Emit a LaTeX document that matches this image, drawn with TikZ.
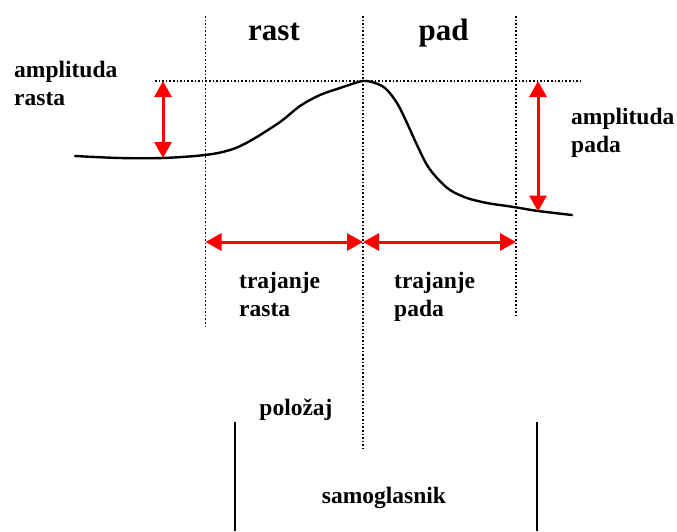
\documentclass[tikz,border=0pt]{standalone}
\usepackage{fontspec}
\setmainfont{Liberation Serif}
\usetikzlibrary{arrows.meta, positioning}

\begin{document}
\begin{tikzpicture}[
  x=1pt, y=-1pt,
  font=\fontsize{23.5}{28}\selectfont\bfseries,
  txt/.style={inner sep=0pt, align=left, anchor=base west},
  head/.style={inner sep=0pt, anchor=base, font=\fontsize{31}{31}\selectfont\bfseries},
  guide/.style={line width=1.5pt, dash pattern=on 1.5pt off 2.1pt},
  span/.style={red, line width=3pt,
    {Triangle[width=17pt,length=16pt]}-{Triangle[width=17pt,length=16pt]}},
  contour/.style={line width=2.4pt, line cap=round},
  wall/.style={line width=1.8pt},
]
\useasboundingbox (0,0) rectangle (677,531);

% --- dotted guides ---
\coordinate (g1top) at (205.5,16);
\coordinate (g1bot) at (205.5,326);
\coordinate (g2top) at (363,16);
\coordinate (g2bot) at (363,449);
\coordinate (g3top) at (516,16);
\coordinate (g3bot) at (516,318);
\coordinate (peakL) at (155,81);
\coordinate (peakR) at (582,81);
\draw[guide] (g1top) -- (g1bot);
\draw[guide] (g2top) -- (g2bot);
\draw[guide] (g3top) -- (g3bot);
\draw[guide] (peakL) -- (peakR);

% --- pitch contour ---
\draw[contour] plot[smooth, tension=0.55] coordinates {
  (75,156) (120,158) (163,158) (205,155) (230,150) (250,141) (280,122)
  (300,106) (320,95) (340,88) (355,83) (363,81) (372,82) (385,88)
  (397,103) (407,123) (417,145) (427,165) (437,178) (450,190) (467,198)
  (487,203) (507,206) (520,208) (538,211) (572,215)};

% --- amplitudes ---
\coordinate (riseTop) at (163,81);
\coordinate (riseBot) at (163,158);
\coordinate (fallTop) at (538,81);
\coordinate (fallBot) at (538,211.5);
\draw[span] (riseTop) -- (riseBot);
\draw[span] (fallTop) -- (fallBot);

% --- durations ---
\coordinate (durA) at (205.5,242);
\coordinate (durB) at (363,242);
\coordinate (durC) at (516,242);
\draw[span] (durA) -- (durB);
\draw[span] (durB) -- (durC);

% --- vowel ---
\coordinate (v1top) at (235,422);
\coordinate (v1bot) at (235,531);
\coordinate (v2top) at (537,422);
\coordinate (v2bot) at (537,531);
\draw[wall] (v1top) -- (v1bot);
\draw[wall] (v2top) -- (v2bot);

% --- labels (base = last line) ---
\node[head] (rast) at (274,40) {rast};
\node[head] (pad) at (443.5,40) {pad};
\node[txt] (ampRise) at (14,105) {amplituda\\rasta};
\node[txt] (ampFall) at (571,152) {amplituda\\pada};
\node[txt] (durRise) at (239,316) {trajanje\\rasta};
\node[txt] (durFall) at (394,316) {trajanje\\pada};
\node[inner sep=0pt, anchor=base] (pos) at (296,415) {položaj};
\node[inner sep=0pt, anchor=base] (vowel) at (384,503) {samoglasnik};
\end{tikzpicture}
\end{document}
